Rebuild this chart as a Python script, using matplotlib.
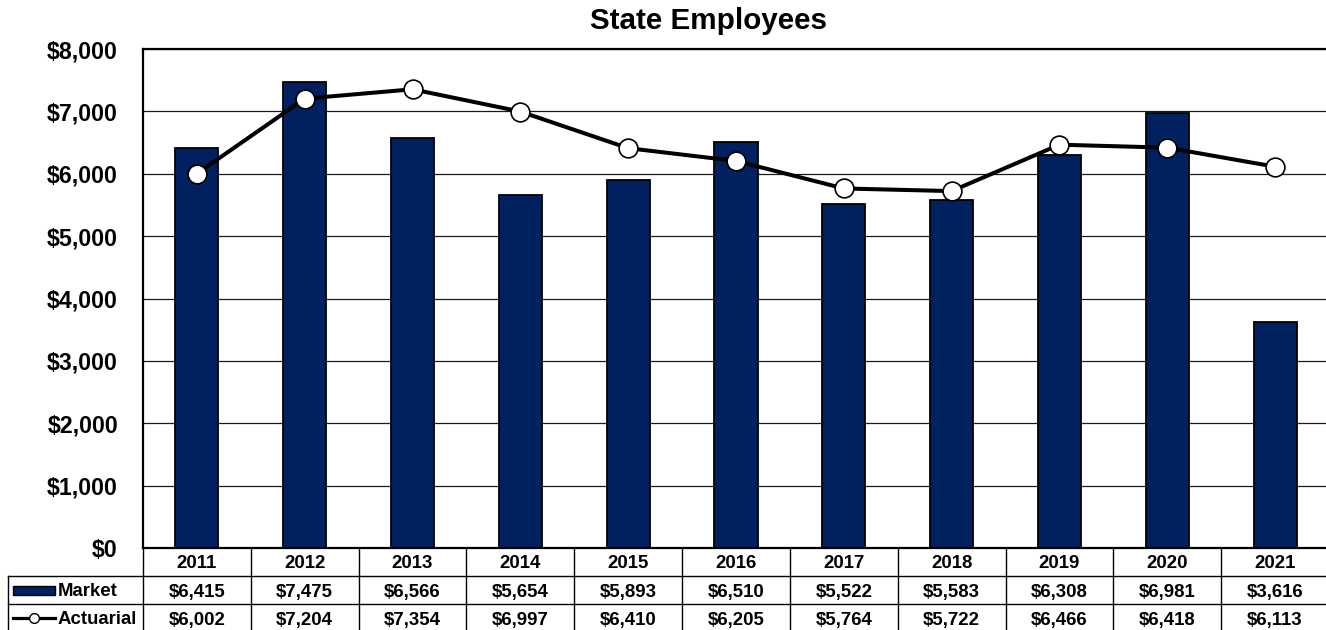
import matplotlib
matplotlib.use("Agg")
import matplotlib.pyplot as plt
import matplotlib.transforms as mtransforms
from matplotlib.patches import Rectangle
from matplotlib.lines import Line2D
from matplotlib.ticker import FuncFormatter

plt.rcParams["font.family"] = ["Liberation Sans", "DejaVu Sans"]
plt.rcParams["font.weight"] = "bold"

# Data
years = ["2011", "2012", "2013", "2014", "2015", "2016", "2017", "2018", "2019", "2020", "2021"]
market = [6415, 7475, 6566, 5654, 5893, 6510, 5522, 5583, 6308, 6981, 3616]
actuarial = [6002, 7204, 7354, 6997, 6410, 6205, 5764, 5722, 6466, 6418, 6113]

NAVY = "#002060"
W, H = 1326, 630
TABLE_FS = 13.4

fig = plt.figure(figsize=(W / 100, H / 100), dpi=100)
ax = fig.add_axes([143 / W, (H - 548) / H, (W - 143 + 3) / W, (548 - 49) / H])

x = list(range(len(years)))
ax.bar(x, market, width=0.4, color=NAVY, edgecolor="black", linewidth=1.3, zorder=2)
ax.plot(x, actuarial, color="black", linewidth=2.9, marker="o", markersize=13.5,
        markerfacecolor="white", markeredgecolor="black", markeredgewidth=1.2, zorder=3)

ax.set_xlim(-0.5, len(years) - 0.5)
ax.set_ylim(0, 8000)
ax.set_yticks(range(0, 8001, 1000))
ax.yaxis.set_major_formatter(FuncFormatter(lambda v, _: f"${v:,.0f}"))
ax.tick_params(axis="y", length=0, pad=18, labelsize=16.7)
ax.set_xticks([])
ax.grid(axis="y", color="#1a1a1a", linewidth=0.9, zorder=0)
ax.set_axisbelow(True)
for side in ("top", "left", "bottom"):
    ax.spines[side].set_linewidth(1.6)
ax.spines["right"].set_visible(False)

fig.text(709 / W, 1 - 21 / H, "State Employees", ha="center", va="center",
         fontsize=21.3, fontweight="bold")

# Data table below the axes: x in data units, y in axes fraction
tr = mtransforms.blended_transform_factory(ax.transData, ax.transAxes)
row_h = 28 / 499
px = 1 / 107.5          # one pixel in data units along x
label_left = -0.5 - 135 * px
line_kw = dict(color="black", linewidth=1.0, transform=tr, clip_on=False)
txt_kw = dict(transform=tr, va="center_baseline", fontsize=TABLE_FS)

for k in range(len(years) + 1):
    ax.add_line(Line2D([k - 0.5, k - 0.5], [0, -3 * row_h], **line_kw))
for r in (1, 2, 3):
    ax.add_line(Line2D([label_left, len(years) - 0.5], [-r * row_h, -r * row_h], **line_kw))
ax.add_line(Line2D([label_left, label_left], [-row_h, -3 * row_h], **line_kw))

for i, yr in enumerate(years):
    ax.text(i, -0.5 * row_h, yr, ha="center", **txt_kw)
    ax.text(i, -1.5 * row_h, f"${market[i]:,}", ha="center", **txt_kw)
    ax.text(i, -2.5 * row_h, f"${actuarial[i]:,}", ha="center", **txt_kw)

# Legend keys in the row-label column
key_l = label_left + 5 * px
key_r = label_left + 47 * px
ax.add_patch(Rectangle((key_l, -1.5 * row_h - 4.5 / 499), key_r - key_l, 9 / 499, transform=tr,
                       facecolor=NAVY, edgecolor="black", linewidth=1.0, clip_on=False))
ax.add_line(Line2D([key_l, key_r], [-2.5 * row_h] * 2, color="black", linewidth=2.3,
                   transform=tr, clip_on=False))
ax.add_line(Line2D([(key_l + key_r) / 2], [-2.5 * row_h], marker="o", markersize=7,
                   markerfacecolor="white", markeredgecolor="black", markeredgewidth=1.0,
                   transform=tr, clip_on=False))
ax.text(key_r + 3 * px, -1.5 * row_h, "Market", ha="left", **txt_kw)
ax.text(key_r + 3 * px, -2.5 * row_h, "Actuarial", ha="left", **txt_kw)

fig.savefig("out.png", dpi=100)
